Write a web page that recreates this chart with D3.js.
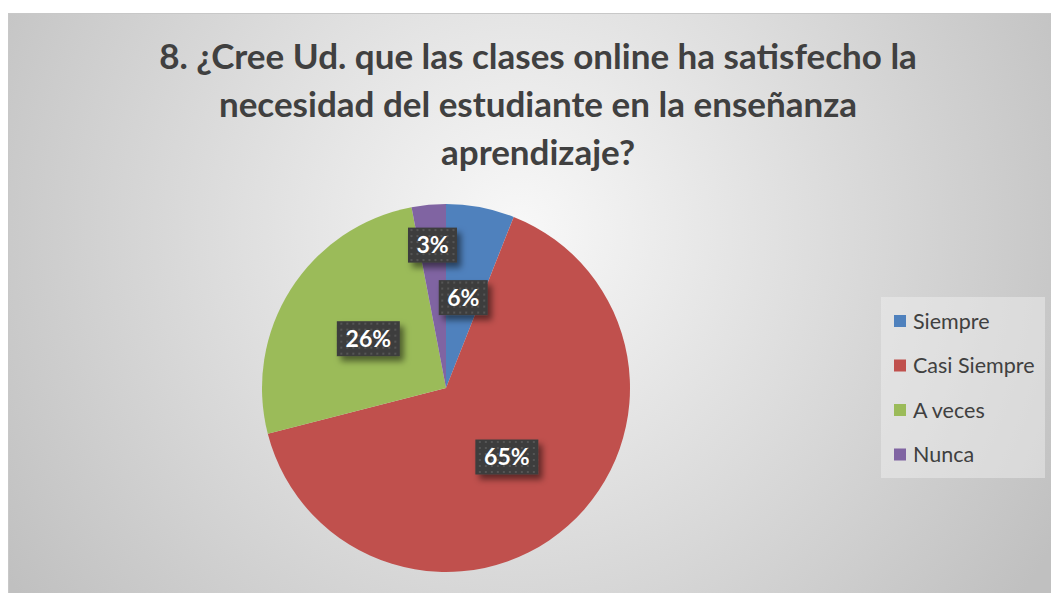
<!DOCTYPE html>
<html>
<head>
<meta charset="utf-8">
<script src="https://cdn.jsdelivr.net/npm/d3@7"></script>
<style>
  body { margin: 0; background: #fff; }
  text { font-family: Lato, "Open Sans", sans-serif; }
</style>
</head>
<body>
<div id="chart"></div>
<script>
const titleLines = [
  '8. ¿Cree Ud. que las clases online ha satisfecho la',
  'necesidad del estudiante en la enseñanza',
  'aprendizaje?'
];
const categories = ['Siempre', 'Casi Siempre', 'A veces', 'Nunca'];
const values = [6, 65, 26, 3];
const colours = ['#4f81bd', '#c0504d', '#9bbb59', '#8064a2'];

const width = 1051, height = 593;
const cx = 446, cy = 388, radius = 184;

const svg = d3.select('#chart').append('svg')
  .attr('width', width)
  .attr('height', height);

const defs = svg.append('defs');

// background gradient
const bg = defs.append('radialGradient')
  .attr('id', 'bg')
  .attr('gradientUnits', 'userSpaceOnUse')
  .attr('cx', 520).attr('cy', 230).attr('r', 620);
bg.append('stop').attr('offset', '0%').attr('stop-color', '#f8f8f8');
bg.append('stop').attr('offset', '100%').attr('stop-color', '#c0c0c0');

// dotted pattern for the label boxes
const pat = defs.append('pattern')
  .attr('id', 'dots')
  .attr('patternUnits', 'userSpaceOnUse')
  .attr('width', 6).attr('height', 6);
pat.append('rect').attr('width', 6).attr('height', 6).attr('fill', '#3d3d3d');
pat.append('rect').attr('x', 2).attr('y', 2).attr('width', 2).attr('height', 2).attr('fill', '#555');

const shadow = defs.append('filter').attr('id', 'shadow')
  .attr('x', '-30%').attr('y', '-30%').attr('width', '170%').attr('height', '170%');
shadow.append('feDropShadow')
  .attr('dx', 4).attr('dy', 5).attr('stdDeviation', 3)
  .attr('flood-color', '#000').attr('flood-opacity', 0.5);

svg.append('rect')
  .attr('x', 8.5).attr('y', 13.5)
  .attr('width', width).attr('height', height)
  .attr('fill', 'url(#bg)')
  .attr('stroke', '#c8c8c8');

// title
svg.append('text')
  .attr('text-anchor', 'middle')
  .attr('fill', '#404040')
  .attr('font-size', 35)
  .attr('font-weight', 'bold')
  .selectAll('tspan')
  .data(titleLines)
  .enter().append('tspan')
    .attr('x', 538)
    .attr('y', (d, i) => 69 + i * 48)
    .text(d => d);

// pie
const pie = d3.pie().sort(null).value(d => d.value);
const arc = d3.arc().innerRadius(0).outerRadius(radius);
const data = categories.map((c, i) => ({ name: c, value: values[i], colour: colours[i] }));
const arcs = pie(data);
const total = d3.sum(values);

const g = svg.append('g').attr('transform', `translate(${cx},${cy})`);

g.selectAll('path.slice')
  .data(arcs)
  .enter().append('path')
    .attr('class', 'slice')
    .attr('d', arc)
    .attr('fill', d => d.data.colour);

// labels: small slices pushed further out
const labelPos = d => {
  const share = d.data.value / total;
  const r = radius * (share < 0.05 ? 0.78 : 0.5);
  const a = (d.startAngle + d.endAngle) / 2;
  return [Math.sin(a) * r, -Math.cos(a) * r];
};

const labels = g.selectAll('g.lbl')
  .data(arcs)
  .enter().append('g')
    .attr('class', 'lbl')
    .attr('transform', d => `translate(${labelPos(d)})`);

labels.each(function(d) {
  const txt = Math.round(d.data.value / total * 100) + '%';
  const w = txt.length > 2 ? 63 : 49;
  const h = 35;
  const sel = d3.select(this);
  sel.append('rect')
    .attr('x', -w / 2).attr('y', -h / 2)
    .attr('width', w).attr('height', h)
    .attr('fill', 'url(#dots)')
    .attr('filter', 'url(#shadow)');
  sel.append('text')
    .attr('text-anchor', 'middle')
    .attr('dy', '0.36em')
    .attr('fill', '#fff')
    .attr('font-size', 23)
    .attr('font-weight', 'bold')
    .text(txt);
});

// legend
const legend = svg.append('g').attr('transform', 'translate(881,297)');
legend.append('rect')
  .attr('width', 164).attr('height', 181)
  .attr('fill', '#f2f2f2').attr('fill-opacity', 0.45);

const items = legend.selectAll('g.item')
  .data(data)
  .enter().append('g')
    .attr('class', 'item')
    .attr('transform', (d, i) => `translate(13,${24 + i * 44.5})`);

items.append('rect')
  .attr('x', 0).attr('y', -6)
  .attr('width', 12).attr('height', 12)
  .attr('fill', d => d.colour);

items.append('text')
  .attr('x', 19)
  .attr('dy', '0.35em')
  .attr('fill', '#404040')
  .attr('font-size', 21.5)
  .text(d => d.name);
</script>
</body>
</html>
